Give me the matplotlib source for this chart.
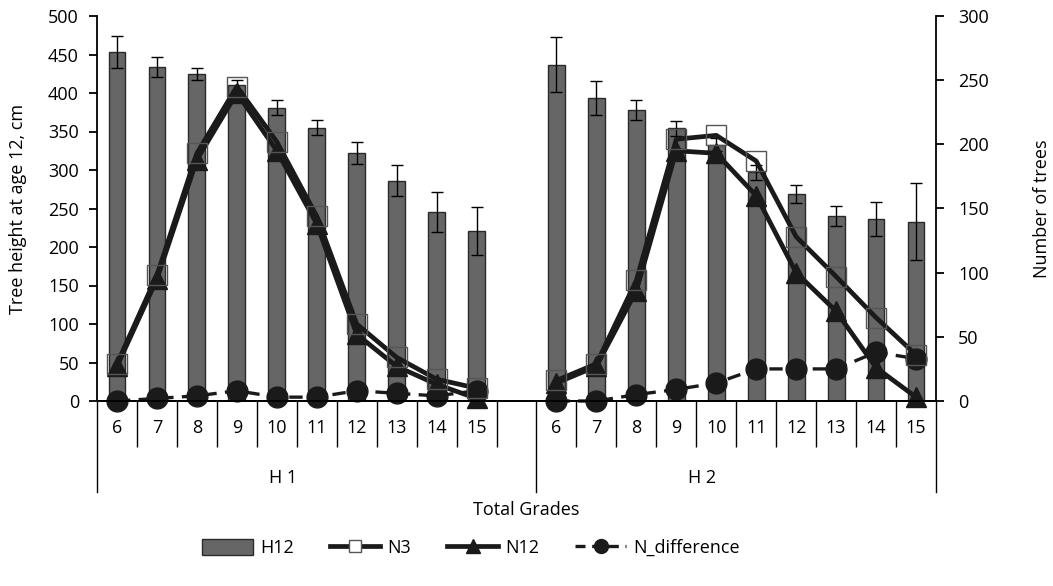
import numpy as np
import matplotlib
matplotlib.use('Agg')
from matplotlib import pyplot as plt
from matplotlib.patches import Patch
from matplotlib.lines import Line2D

plt.rcParams['font.family'] = ['Open Sans', 'DejaVu Sans']
fs = 13

grades = [6, 7, 8, 9, 10, 11, 12, 13, 14, 15]
groups = ['H 1', 'H 2']

# tree height at age 12 (left axis) with error
h12_h1 = [453, 434, 425, 410, 381, 355, 322, 286, 246, 221]
h12_h2 = [437, 394, 378, 354, 333, 297, 269, 240, 236, 233]
err_h1 = [21, 13, 8, 7, 10, 10, 14, 20, 26, 31]
err_h2 = [36, 22, 13, 10, 8, 10, 12, 13, 22, 50]

# number of trees (right axis)
n3_h1 = [29, 98, 193, 245, 202, 144, 60, 34, 17, 10]
n3_h2 = [16, 29, 94, 204, 207, 187, 128, 97, 65, 36]
n12_h1 = [27, 95, 188, 240, 195, 138, 52, 27, 13, 2]
n12_h2 = [14, 27, 86, 195, 193, 160, 100, 70, 26, 3]
ndiff_h1 = [0, 2, 4, 8, 3, 3, 8, 6, 4, 8]
ndiff_h2 = [0, 0, 5, 9, 14, 25, 25, 25, 38, 33]

n = len(grades)
x1 = np.arange(n)
x2 = np.arange(n) + n + 1

fig = plt.figure(figsize=(10.53, 5.86), dpi=100)
ax = fig.add_axes([97 / 1053, 1 - 401 / 586, 839 / 1053, 385 / 586])
ax2 = ax.twinx()

bar_kw = dict(width=0.42, color='#666666', edgecolor='#2a2a2a', linewidth=1,
              error_kw=dict(ecolor='black', elinewidth=1, capsize=4, capthick=1))
ax.bar(x1, h12_h1, yerr=err_h1, **bar_kw)
ax.bar(x2, h12_h2, yerr=err_h2, **bar_kw)

n3_kw = dict(color='#1a1a1a', lw=3.4, marker='s', ms=15, mfc='none', mec='#555555', mew=1)
n12_kw = dict(color='#1a1a1a', lw=3.4, marker='^', ms=14, mfc='#1a1a1a', mec='#1a1a1a')
nd_kw = dict(color='#1a1a1a', lw=2.4, ls=(0, (4, 2.5)), marker='o', ms=15, mfc='#1a1a1a', mec='#1a1a1a')
for xx, a, b, c in [(x1, n3_h1, n12_h1, ndiff_h1), (x2, n3_h2, n12_h2, ndiff_h2)]:
    ax2.plot(xx, c, clip_on=False, **nd_kw)
    ax2.plot(xx, b, clip_on=False, **n12_kw)
    ax2.plot(xx, a, clip_on=False, **n3_kw)

ax.set_xlim(-0.5, 2 * n + 0.5)
ax.set_ylim(0, 500)
ax.set_yticks(np.arange(0, 501, 50))
ax2.set_ylim(0, 300)
ax2.set_yticks(np.arange(0, 301, 50))

for a in (ax, ax2):
    a.spines['top'].set_visible(False)
    a.spines['bottom'].set_linewidth(1.3)
ax.spines['left'].set_linewidth(1.3)
ax2.spines['right'].set_linewidth(1.3)
ax2.spines['left'].set_visible(False)
ax.spines['right'].set_visible(False)
ax.tick_params(axis='y', direction='out', length=6, width=1.3, labelsize=fs, pad=7)
ax2.tick_params(axis='y', direction='out', length=6, width=1.3, labelsize=fs, pad=10)

# category ticks and labels
pos = list(x1) + list(x2)
ax.set_xticks(pos)
ax.set_xticklabels([str(g) for g in grades] * 2, fontsize=fs)
ax.tick_params(axis='x', length=0, pad=13)
bounds = [b - 0.5 for b in range(2 * n + 2) if b not in (0, n + 1, 2 * n + 1)]
ax.set_xticks(bounds, minor=True)
ax.tick_params(axis='x', which='minor', length=33, width=1, direction='out')

trans = ax.get_xaxis_transform()
for b in (-0.5, n + 0.5, 2 * n + 0.5):
    ax.plot([b, b], [0, -0.236], transform=trans, color='black', lw=1, clip_on=False)
ax.text(x1.mean() - 0.35, -0.2, groups[0], transform=trans, ha='center', va='center', fontsize=fs)
ax.text(x2.mean() - 0.85, -0.2, groups[1], transform=trans, ha='center', va='center', fontsize=fs)

ax.set_ylabel('Tree height at age 12, cm', fontsize=fs, labelpad=15)
ax2.set_ylabel('Number of trees', fontsize=fs, labelpad=32)
fig.text(0.5, 1 - 510 / 586, 'Total Grades', ha='center', va='center', fontsize=fs)

handles = [Patch(facecolor='#666666', edgecolor='#2a2a2a'),
           Line2D([], [], color='#1a1a1a', lw=3.4, marker='s', ms=9, mfc='white', mec='#555555', mew=1),
           Line2D([], [], color='#1a1a1a', lw=3.4, marker='^', ms=10, mfc='#1a1a1a', mec='#1a1a1a'),
           Line2D([], [], color='#1a1a1a', lw=2.4, ls=(0, (3, 2)), marker='o', ms=10, mfc='#1a1a1a')]
fig.legend(handles, ['H12', 'N3', 'N12', 'N_difference'], loc='center', ncol=4,
           bbox_to_anchor=(471 / 1053, 1 - 548 / 586), frameon=False, fontsize=fs,
           handlelength=2.8, handleheight=1.0, columnspacing=2.0, handletextpad=0.4)

fig.savefig('out.png', dpi=100)
